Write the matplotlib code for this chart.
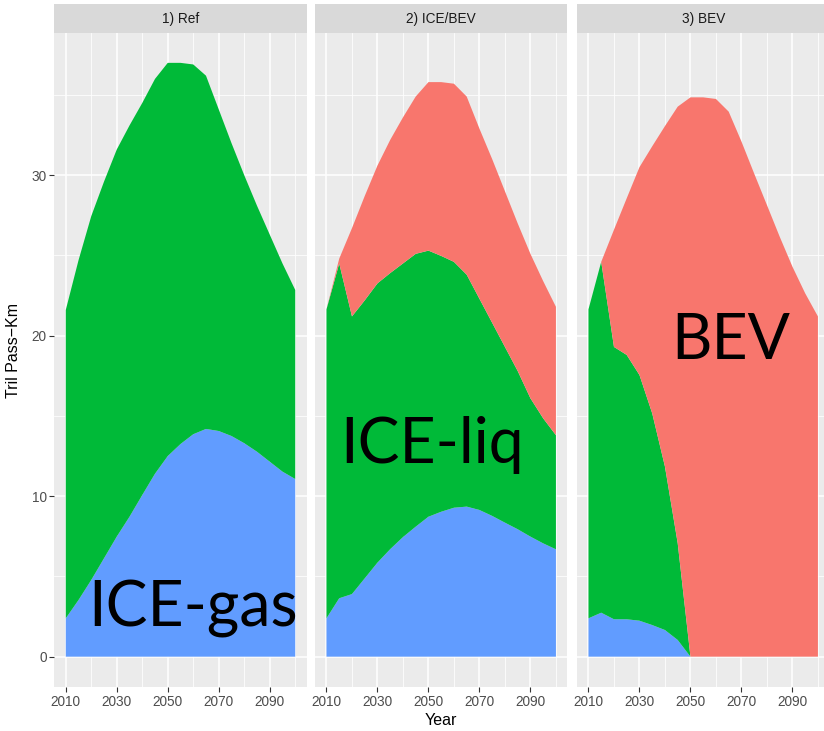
import numpy as np
import matplotlib.pyplot as plt

years = list(range(2010, 2101, 5))
panel_titles = ["1) Ref", "2) ICE/BEV", "3) BEV"]
x_ticks = [2010, 2030, 2050, 2070, 2090]
y_ticks = [0, 10, 20, 30]

# Tril Pass-Km by technology, per scenario
ref_gas = [2.39, 3.53, 4.78, 6.13, 7.48, 8.72, 10.07, 11.4, 12.5, 13.25,
           13.86, 14.19, 14.06, 13.75, 13.3, 12.77, 12.15, 11.53, 11.07]
ref_liq = [19.21, 21.17, 22.67, 23.47, 24.12, 24.38, 24.43, 24.6, 24.5, 23.75,
           23.04, 22.01, 20.04, 18.25, 16.7, 15.33, 14.15, 12.97, 11.78]
ref_bev = [0] * 19

icebev_gas = [2.39, 3.64, 3.9, 4.88, 5.86, 6.7, 7.45, 8.1, 8.72, 9.03,
              9.28, 9.35, 9.14, 8.77, 8.35, 7.94, 7.48, 7.06, 6.69]
icebev_liq = [19.25, 20.86, 17.3, 17.32, 17.4, 17.2, 17.05, 17.0, 16.58, 15.94,
              15.32, 14.45, 13.16, 12.03, 10.95, 9.86, 8.62, 7.79, 7.11]
icebev_bev = [0, 0.3, 5.5, 6.5, 7.34, 8.3, 9.1, 9.8, 10.5, 10.83,
              11.1, 11.1, 10.6, 10.2, 9.7, 9.2, 9.0, 8.55, 8.0]

bev_gas = [2.39, 2.74, 2.33, 2.33, 2.24, 1.97, 1.66, 1.04, 0, 0,
           0, 0, 0, 0, 0, 0, 0, 0, 0]
bev_liq = [19.25, 21.86, 16.97, 16.47, 15.31, 13.19, 10.18, 6.03, 0, 0,
           0, 0, 0, 0, 0, 0, 0, 0, 0]
bev_bev = [0, 0, 7.3, 9.76, 12.95, 16.64, 21.22, 27.2, 34.85, 34.85,
           34.75, 33.96, 32.1, 30.1, 28.14, 26.17, 24.3, 22.64, 21.2]

scenarios = [(ref_gas, ref_liq, ref_bev),
             (icebev_gas, icebev_liq, icebev_bev),
             (bev_gas, bev_liq, bev_bev)]

col_gas, col_liq, col_bev = "#619CFF", "#00BA38", "#F8766D"

plt.rcParams['font.family'] = ['Liberation Sans', 'DejaVu Sans']

W, H = 824, 731
fig = plt.figure(figsize=(W / 100, H / 100), dpi=100)

lefts = [54.3, 315.0, 577.0]
pw = 252.4
top, bottom = 33.0, 687.0
strip_top = 4.0

for i, (gas, liq, bev) in enumerate(scenarios):
    ax = fig.add_axes([lefts[i] / W, (H - bottom) / H, pw / W, (bottom - top) / H])
    ax.set_facecolor("#EBEBEB")
    ax.stackplot(years, gas, liq, bev, colors=[col_gas, col_liq, col_bev],
                 linewidth=0, zorder=3)
    ax.set_xlim(2005.5, 2104.5)
    ax.set_ylim(-1.89, 38.86)
    ax.set_xticks(x_ticks)
    ax.set_xticks([2020, 2040, 2060, 2080, 2100], minor=True)
    ax.set_yticks(y_ticks)
    ax.set_yticks([5, 15, 25, 35], minor=True)
    ax.grid(True, which='major', color='white', lw=1.1, zorder=1)
    ax.grid(True, which='minor', color='white', lw=0.55, zorder=1)
    for s in ax.spines.values():
        s.set_visible(False)
    ax.tick_params(which='major', length=3.5, width=0.8, color='#333333',
                   labelcolor='#4D4D4D', labelsize=9.8, pad=2)
    ax.tick_params(which='minor', length=0)
    if i > 0:
        ax.tick_params(axis='y', which='both', left=False, labelleft=False)
    if i == 1:
        ax.set_xlabel("Year", fontsize=11.5, color='black', labelpad=3)

    sax = fig.add_axes([lefts[i] / W, (H - top) / H, pw / W, (top - strip_top) / H])
    sax.set_facecolor("#D9D9D9")
    sax.set_xticks([])
    sax.set_yticks([])
    for s in sax.spines.values():
        s.set_visible(False)
    sax.text(0.5, 0.5, panel_titles[i], ha='center', va='center',
             fontsize=9.8, color='#1A1A1A', transform=sax.transAxes)

fig.text(14 / W, 1 - 350 / H, "Tril Pass\u2212Km", rotation=90, ha='center',
         va='center', fontsize=11.5, color='black')

big = dict(fontsize=45, color='black', family=['Lato', 'DejaVu Sans'],
           va='baseline', ha='left')
fig.text(88 / W, 1 - 627 / H, "ICE-gas", **big)
fig.text(340 / W, 1 - 463 / H, "ICE-liq", **big)
fig.text(671 / W, 1 - 359 / H, "BEV", **big)

fig.savefig("out.png", dpi=100)
